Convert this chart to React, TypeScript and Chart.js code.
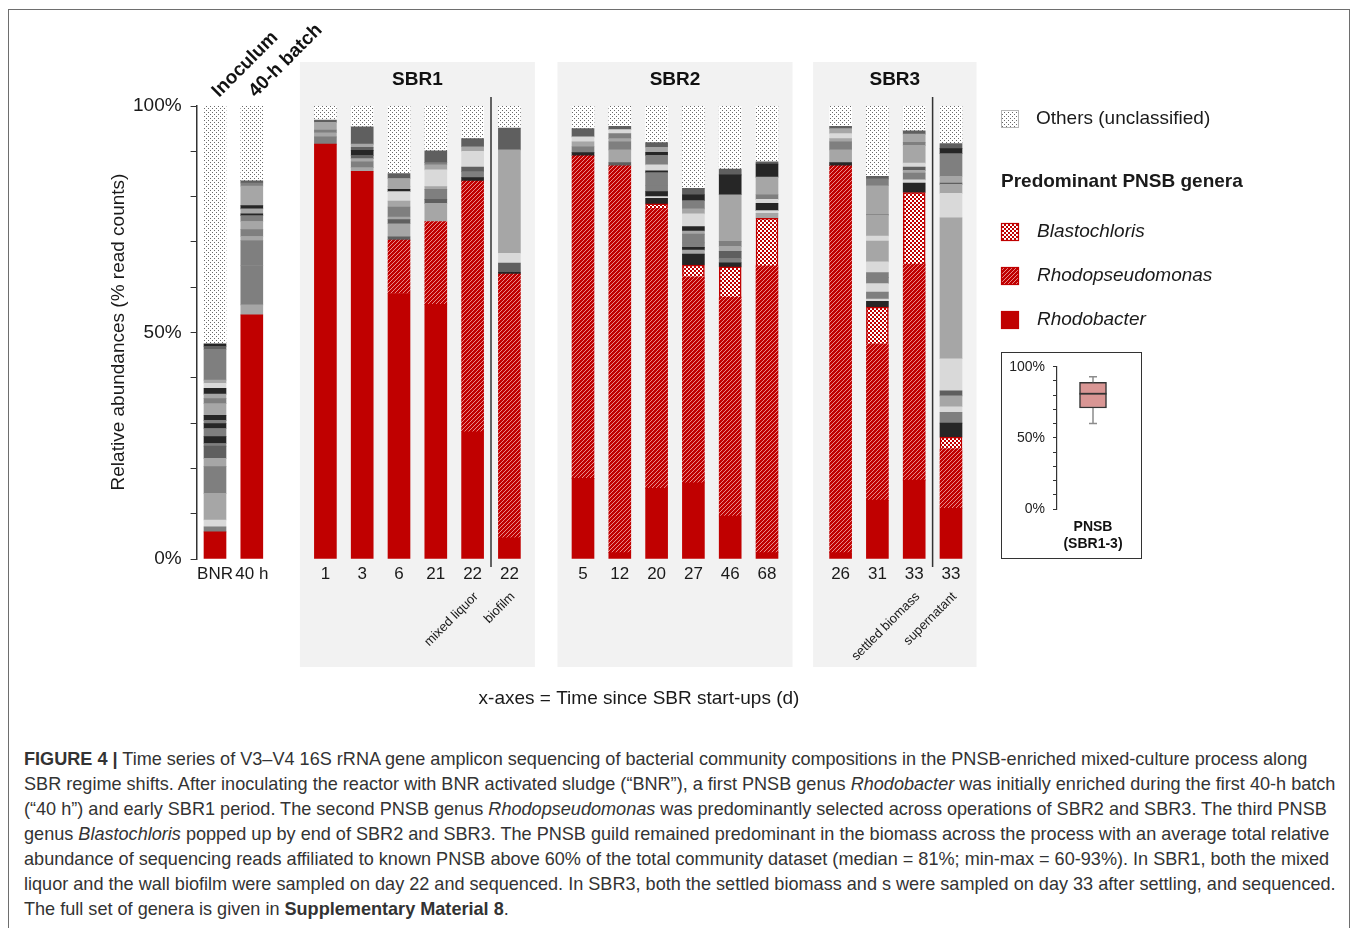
import React, { useEffect, useRef } from 'react';
import { Chart, registerables } from 'chart.js';

Chart.register(...registerables);

const FONT = '"Liberation Sans", Arial, Helvetica, sans-serif';

// ---- categories (x slots; '' = spacer between reactor phases) ----
const categories = ['BNR', '40 h', '', '1', '3', '6', '21', '22', '22', '', '5', '12', '20', '27', '46', '68', '', '26', '31', '33', '33'];

// ---- PNSB genera (% read counts) ----
const rhodobacter = [6.0, 53.9, null, 91.6, 85.6, 58.6, 56.2, 28.1, 4.7, null, 17.8, 1.4, 15.6, 16.8, 9.5, 1.4, null, 1.4, 13.0, 17.4, 11.2];
const rhodopseudomonas = [0, 0, null, 0, 0, 11.8, 18.3, 55.3, 58.2, null, 71.2, 85.4, 61.8, 45.5, 48.3, 63.3, null, 85.4, 34.5, 47.7, 13.2];
const blastochloris = [0, 0, null, 0, 0, 0, 0, 0, 0, null, 0, 0, 1.0, 2.6, 6.7, 10.5, null, 0, 8.1, 15.8, 2.5];
const others = [52.5, 16.5, null, 3.1, 4.6, 14.9, 9.9, 7.2, 4.9, null, 5.0, 4.5, 8.1, 18.2, 13.9, 12.3, null, 4.5, 15.5, 5.5, 8.3];

// ---- other genera (grey bands, bottom -> top: [shade, %]) ----
const grayBNR = [['G', 1.1], ['W', 1.5], ['L', 5.9], ['G', 5.9], ['L', 1.8], ['M', 2.7], ['G', 0.6], ['D', 1.5], ['G', 1.8], ['D', 1.1], ['G', 0.7], ['D', 1.1], ['L', 2.6], ['G', 1.1], ['L', 1.0], ['D', 1.3], ['W', 1.1], ['L', 0.7], ['G', 6.8], ['M', 0.6], ['D', 0.6]];
const gray40h = [['L', 2.2], ['G', 8.7], ['G', 5.5], ['L', 0.9], ['G', 1.5], ['L', 1.8], ['G', 1.3], ['D', 0.4], ['L', 1.1], ['D', 0.7], ['L', 4.3], ['G', 0.7], ['M', 0.5]];
const gray1 = [['G', 1.6], ['L', 0.9], ['G', 0.6], ['L', 1.7], ['M', 0.5]];
const gray3 = [['L', 0.8], ['G', 1.3], ['L', 0.7], ['M', 0.7], ['D', 1.1], ['M', 0.7], ['L', 0.7], ['M', 3.8]];
const gray6 = [['M', 0.7], ['L', 2.9], ['M', 0.9], ['L', 0.6], ['G', 2.2], ['L', 1.3], ['W', 2.1], ['D', 0.5], ['L', 0.6], ['L', 1.8], ['M', 1.1]];
const gray21 = [['L', 4.0], ['M', 0.9], ['G', 2.2], ['L', 0.6], ['W', 3.7], ['L', 1.1], ['G', 0.5], ['M', 2.6]];
const gray22ml = [['D', 0.8], ['G', 1.3], ['M', 1.0], ['W', 3.5], ['L', 1.0], ['M', 1.8]];
const gray22bf = [['D', 0.4], ['M', 2.0], ['W', 2.2], ['L', 22.8], ['M', 4.8]];
const gray5 = [['D', 0.7], ['G', 1.3], ['L', 1.1], ['W', 1.1], ['M', 1.8]];
const gray12 = [['M', 0.7], ['L', 2.8], ['G', 1.8], ['L', 0.7], ['G', 1.1], ['W', 0.9], ['M', 0.7]];
const gray20 = [['D', 1.2], ['W', 0.4], ['D', 1.1], ['G', 1.3], ['G', 2.9], ['D', 0.4], ['W', 1.3], ['G', 2.1], ['D', 0.7], ['L', 1.1], ['M', 1.0]];
const gray27 = [['D', 2.4], ['L', 0.9], ['D', 0.6], ['G', 1.0], ['G', 1.9], ['L', 0.7], ['D', 1.0], ['W', 2.8], ['L', 1.1], ['G', 1.8], ['D', 1.3], ['M', 1.4]];
const gray46 = [['D', 0.9], ['G', 1.0], ['M', 1.5], ['L', 1.1], ['G', 1.1], ['L', 10.3], ['D', 4.4], ['M', 1.3]];
const gray68 = [['L', 1.1], ['W', 0.6], ['D', 1.6], ['W', 0.9], ['G', 1.0], ['L', 3.9], ['D', 2.9], ['M', 0.5]];
const gray26 = [['D', 0.7], ['L', 2.8], ['G', 1.8], ['L', 0.7], ['W', 1.1], ['L', 1.1], ['M', 0.5]];
const gray31 = [['D', 1.3], ['W', 0.5], ['G', 1.5], ['W', 1.9], ['G', 1.3], ['G', 1.1], ['W', 2.4], ['L', 4.6], ['W', 1.1], ['L', 4.6], ['G', 0.2], ['L', 6.3], ['G', 1.5], ['M', 0.6]];
const gray33sb = [['D', 2.1], ['W', 0.7], ['G', 1.5], ['L', 0.6], ['M', 0.7], ['W', 0.9], ['L', 3.9], ['G', 0.7], ['L', 1.8], ['M', 0.7]];
const gray33sn = [['D', 3.1], ['G', 2.4], ['W', 1.2], ['L', 2.4], ['M', 1.1], ['W', 7.1], ['L', 31.1], ['W', 5.4], ['L', 2.0], ['M', 0.3], ['L', 1.5], ['G', 5.0], ['D', 1.1], ['M', 1.1]];

const grayBands: any[] = [grayBNR, gray40h, null, gray1, gray3, gray6, gray21, gray22ml, gray22bf, null, gray5, gray12, gray20, gray27, gray46, gray68, null, gray26, gray31, gray33sb, gray33sn];

const shadeColors: Record<string, string> = { D: '#262626', M: '#5f5f5f', G: '#7f7f7f', L: '#a6a6a6', W: '#d9d9d9' };

// ---- annotations ----
const panelNames = ['SBR1', 'SBR2', 'SBR3'];
const panelFirst = [3, 10, 17];
const panelLast = [8, 15, 20];
const separatorAfter = [7, 19];
const noteIdx = [7, 8, 19, 20];
const noteText = ['mixed liquor', 'biofilm', 'settled biomass', 'supernatant'];
const topIdx = [0, 1];
const topText = ['Inoculum', '40-h batch'];

// ---- inset box plot: min, q1, median, q3, max ----
const pnsbSummary = [60, 71, 81, 89, 93];
const insetTickLabels = [0, 50, 100];

const RED = '#c00000';

function makeCanvas(w: number, h: number) {
  const c = document.createElement('canvas');
  c.width = w; c.height = h;
  return [c, c.getContext('2d') as CanvasRenderingContext2D] as const;
}
function hatchPattern() {
  const [c, g] = makeCanvas(4, 4);
  g.fillStyle = RED; g.fillRect(0, 0, 4, 4);
  g.fillStyle = '#e88a8a';
  for (let k = 0; k < 4; k++) g.fillRect(3 - k, k, 1, 1);
  return g.createPattern(c, 'repeat') as CanvasPattern;
}
function speckPattern() {
  const [c, g] = makeCanvas(4, 4);
  g.fillStyle = '#ffffff'; g.fillRect(0, 0, 4, 4);
  g.fillStyle = RED;
  g.fillRect(0, 0, 2, 2); g.fillRect(2, 2, 2, 2);
  return g.createPattern(c, 'repeat') as CanvasPattern;
}
function dotsPattern() {
  const [c, g] = makeCanvas(4, 4);
  g.fillStyle = '#ffffff'; g.fillRect(0, 0, 4, 4);
  g.fillStyle = '#6a6a6a';
  g.fillRect(0, 0, 1, 1); g.fillRect(2, 2, 1, 1);
  return g.createPattern(c, 'repeat') as CanvasPattern;
}

export default function App() {
  const mainRef = useRef<HTMLCanvasElement>(null);
  const insetRef = useRef<HTMLCanvasElement>(null);

  useEffect(() => {
    const hatch = hatchPattern();
    const speck = speckPattern();
    const dots = dotsPattern();
    const nz = (arr: (number | null)[]) => arr.map((v) => (v ? v : null));

    const maxBands = Math.max(...grayBands.map((b) => (b ? b.length : 0)));
    const grayDatasets = Array.from({ length: maxBands }, (_, k) => ({
      label: 'other genus ' + (k + 1),
      data: grayBands.map((b) => (b && b[k] ? b[k][1] : null)),
      backgroundColor: grayBands.map((b) => (b && b[k] ? shadeColors[b[k][0]] : 'transparent')),
    }));

    const decor = {
      id: 'decor',
      beforeDraw(chart: any) {
        const ctx = chart.ctx;
        const x = chart.scales.x;
        ctx.save();
        panelNames.forEach((name, p) => {
          const l = x.getPixelForValue(panelFirst[p]) - (p === 2 ? 27.5 : 25.5);
          const r = x.getPixelForValue(panelLast[p]) + 25.5;
          ctx.fillStyle = '#f2f2f2';
          ctx.fillRect(l, 62, r - l, 605);
          ctx.fillStyle = '#111';
          ctx.font = `bold 19px ${FONT}`;
          ctx.textAlign = 'center';
          ctx.textBaseline = 'middle';
          ctx.fillText(name, (l + r) / 2, 80);
        });
        ctx.restore();
      },
      afterDraw(chart: any) {
        const ctx = chart.ctx;
        const x = chart.scales.x;
        ctx.save();
        // separators
        ctx.strokeStyle = '#333';
        ctx.lineWidth = 1.5;
        separatorAfter.forEach((i) => {
          const sx = (x.getPixelForValue(i) + x.getPixelForValue(i + 1)) / 2;
          ctx.beginPath(); ctx.moveTo(sx, 97); ctx.lineTo(sx, 567); ctx.stroke();
        });
        // x tick labels
        ctx.fillStyle = '#1a1a1a';
        ctx.font = `17px ${FONT}`;
        ctx.textAlign = 'center';
        ctx.textBaseline = 'middle';
        categories.forEach((c, i) => { if (c) ctx.fillText(c, x.getPixelForValue(i), 574); });
        // rotated sample notes
        ctx.font = `13px ${FONT}`;
        noteIdx.forEach((i, k) => {
          ctx.save();
          ctx.translate(x.getPixelForValue(i) - 1, 590);
          ctx.rotate(-Math.PI / 4);
          ctx.textAlign = 'right';
          ctx.textBaseline = 'top';
          ctx.fillText(noteText[k], 0, 0);
          ctx.restore();
        });
        // top labels
        ctx.font = `bold 19px ${FONT}`;
        topIdx.forEach((i, k) => {
          ctx.save();
          ctx.translate(x.getPixelForValue(i) + 4, 98);
          ctx.rotate(-Math.PI / 4);
          ctx.textAlign = 'left';
          ctx.textBaseline = 'alphabetic';
          ctx.fillStyle = '#111';
          ctx.fillText(topText[k], 0, 0);
          ctx.restore();
        });
        // y title
        ctx.save();
        ctx.translate(119, 332);
        ctx.rotate(-Math.PI / 2);
        ctx.font = `19px ${FONT}`;
        ctx.textAlign = 'center';
        ctx.textBaseline = 'middle';
        ctx.fillText('Relative abundances (% read counts)', 0, 0);
        ctx.restore();
        // x-axes note
        ctx.font = `19px ${FONT}`;
        ctx.textAlign = 'center';
        ctx.textBaseline = 'middle';
        ctx.fillText('x-axes = Time since SBR start-ups (d)', 639, 699);
        // legend
        ctx.textAlign = 'left';
        ctx.fillStyle = dots;
        ctx.fillRect(1001, 110, 18, 18);
        ctx.strokeStyle = '#b5b5b5'; ctx.lineWidth = 1;
        ctx.strokeRect(1001.5, 110.5, 17, 17);
        ctx.fillStyle = '#1a1a1a';
        ctx.font = `19px ${FONT}`;
        ctx.fillText('Others (unclassified)', 1036, 119);
        ctx.font = `bold 19px ${FONT}`;
        ctx.fillText('Predominant PNSB genera', 1001, 182);
        const items = [
          { fill: speck, text: 'Blastochloris', y: 223 },
          { fill: hatch, text: 'Rhodopseudomonas', y: 267 },
          { fill: RED, text: 'Rhodobacter', y: 311 },
        ];
        items.forEach((it) => {
          ctx.fillStyle = it.fill;
          ctx.fillRect(1001, it.y, 18, 18);
          ctx.strokeStyle = RED;
          ctx.lineWidth = 1.2;
          ctx.strokeRect(1001.5, it.y + 0.5, 17, 17);
          ctx.fillStyle = '#1a1a1a';
          ctx.font = `italic 19px ${FONT}`;
          ctx.fillText(it.text, 1037, it.y + 9);
        });
        ctx.restore();
      },
    };

    const main = new Chart(mainRef.current as HTMLCanvasElement, {
      type: 'bar',
      data: {
        labels: categories,
        datasets: [
          { label: 'Rhodobacter', data: nz(rhodobacter), backgroundColor: RED },
          { label: 'Rhodopseudomonas', data: nz(rhodopseudomonas), backgroundColor: hatch },
          { label: 'Blastochloris', data: nz(blastochloris), backgroundColor: speck, borderColor: RED, borderWidth: 1.5 },
          ...grayDatasets,
          { label: 'Others (unclassified)', data: others, backgroundColor: dots },
        ] as any,
      },
      options: {
        animation: false,
        responsive: false,
        datasets: { bar: { barThickness: 22, borderWidth: 0 } } as any,
        plugins: { legend: { display: false }, tooltip: { enabled: false } },
        layout: { padding: { left: 96.6, right: 388.6, top: 106, bottom: 161 } },
        scales: {
          x: { type: 'category', display: false, stacked: true, offset: true },
          y: {
            stacked: true,
            min: 0,
            max: 100,
            afterFit: (s: any) => { s.width = 100; },
            ticks: {
              stepSize: 10,
              autoSkip: false,
              callback: (v: any) => (Number(v) % 50 === 0 ? v + '%' : ''),
              font: { family: FONT, size: 19 },
              color: '#1a1a1a',
              padding: 9,
            },
            grid: { drawOnChartArea: false, tickLength: 6, color: '#333', lineWidth: 1 },
            border: { color: '#333', width: 1.5 },
          },
        },
      } as any,
      plugins: [decor],
    });

    const boxPlugin = {
      id: 'boxExtras',
      afterDatasetsDraw(chart: any) {
        const ctx = chart.ctx;
        const y = chart.scales.y;
        const cx = chart.scales.x.getPixelForValue(0);
        ctx.save();
        ctx.strokeStyle = '#8c8c8c';
        ctx.lineWidth = 1.5;
        ctx.beginPath();
        ctx.moveTo(cx, y.getPixelForValue(pnsbSummary[3])); ctx.lineTo(cx, y.getPixelForValue(pnsbSummary[4]));
        ctx.moveTo(cx - 4, y.getPixelForValue(pnsbSummary[4])); ctx.lineTo(cx + 4, y.getPixelForValue(pnsbSummary[4]));
        ctx.moveTo(cx, y.getPixelForValue(pnsbSummary[1])); ctx.lineTo(cx, y.getPixelForValue(pnsbSummary[0]));
        ctx.moveTo(cx - 4, y.getPixelForValue(pnsbSummary[0])); ctx.lineTo(cx + 4, y.getPixelForValue(pnsbSummary[0]));
        ctx.stroke();
        ctx.strokeStyle = '#333';
        ctx.lineWidth = 1.8;
        ctx.beginPath();
        ctx.moveTo(cx - 13.5, y.getPixelForValue(pnsbSummary[2])); ctx.lineTo(cx + 13.5, y.getPixelForValue(pnsbSummary[2]));
        ctx.stroke();
        // y tick labels
        ctx.fillStyle = '#222';
        ctx.font = `14px ${FONT}`;
        ctx.textAlign = 'right';
        ctx.textBaseline = 'middle';
        insetTickLabels.forEach((v) => ctx.fillText(v + '%', y.left + y.width - 12, y.getPixelForValue(v)));
        // category label
        ctx.fillStyle = '#111';
        ctx.font = `bold 14px ${FONT}`;
        ctx.textAlign = 'center';
        ctx.fillText('PNSB', cx, 174);
        ctx.fillText('(SBR1-3)', cx, 191);
        ctx.restore();
      },
    };

    const inset = new Chart(insetRef.current as HTMLCanvasElement, {
      type: 'bar',
      data: {
        labels: ['PNSB (SBR1-3)'],
        datasets: [{
          data: [[pnsbSummary[1], pnsbSummary[3]]],
          backgroundColor: '#d99694',
          borderColor: '#333',
          borderWidth: 1.5,
          borderSkipped: false,
          barThickness: 27,
        }] as any,
      },
      options: {
        animation: false,
        responsive: false,
        plugins: { legend: { display: false }, tooltip: { enabled: false } },
        layout: { padding: { left: 1, right: 12, top: 13.7, bottom: 49 } },
        scales: {
          x: { display: false, offset: true },
          y: {
            min: 0,
            max: 100,
            afterFit: (s: any) => { s.width = 54; },
            ticks: {
              stepSize: 10,
              autoSkip: false,
              callback: () => '',
              font: { family: FONT, size: 14 },
              padding: 0,
            },
            grid: { drawOnChartArea: false, tickLength: 4, color: '#333' },
            border: { color: '#333', width: 1.2 },
          },
        },
      } as any,
      plugins: [boxPlugin],
    });

    return () => { main.destroy(); inset.destroy(); };
  }, []);

  const captionStyle: React.CSSProperties = {
    position: 'absolute', left: 24, top: 747, fontFamily: FONT, fontSize: 18.1, lineHeight: '25px',
    color: '#333', whiteSpace: 'pre',
  };

  return (
    <div style={{ position: 'absolute', left: 0, top: 0, width: 1358, height: 928, overflow: 'hidden', background: '#fff' }}>
      <div style={{ position: 'absolute', left: 8, top: 9, width: 1342, height: 960, border: '1px solid #6e6e6e', boxSizing: 'border-box' }} />
      <canvas ref={mainRef} width={1358} height={720} style={{ position: 'absolute', left: 0, top: 0, display: 'block' }} />
      <div style={{ position: 'absolute', left: 1001, top: 352, width: 141, height: 207, border: '1px solid #333', boxSizing: 'border-box', background: '#fff' }} />
      <canvas ref={insetRef} width={139} height={205} style={{ position: 'absolute', left: 1002, top: 353, display: 'block' }} />
      <div style={captionStyle}>
        <b>FIGURE 4 |</b> Time series of V3–V4 16S rRNA gene amplicon sequencing of bacterial community compositions in the PNSB-enriched mixed-culture process along{'\n'}
        SBR regime shifts. After inoculating the reactor with BNR activated sludge (“BNR”), a first PNSB genus <i>Rhodobacter</i> was initially enriched during the first 40-h batch{'\n'}
        (“40 h”) and early SBR1 period. The second PNSB genus <i>Rhodopseudomonas</i> was predominantly selected across operations of SBR2 and SBR3. The third PNSB{'\n'}
        genus <i>Blastochloris</i> popped up by end of SBR2 and SBR3. The PNSB guild remained predominant in the biomass across the process with an average total relative{'\n'}
        abundance of sequencing reads affiliated to known PNSB above 60% of the total community dataset (median = 81%; min-max = 60-93%). In SBR1, both the mixed{'\n'}
        liquor and the wall biofilm were sampled on day 22 and sequenced. In SBR3, both the settled biomass and s were sampled on day 33 after settling, and sequenced.{'\n'}
        The full set of genera is given in <b>Supplementary Material 8</b>.
      </div>
    </div>
  );
}
